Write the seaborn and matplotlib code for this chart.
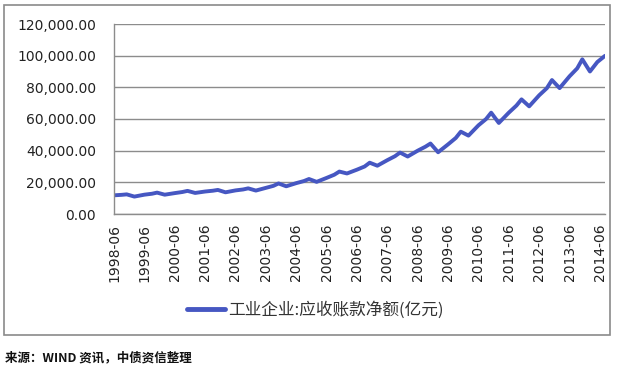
import pandas as pd
import matplotlib
matplotlib.use("Agg")
import matplotlib.pyplot as plt
from matplotlib.patches import Rectangle
from matplotlib.ticker import FuncFormatter
import seaborn as sns

# data (亿元)
dates = [
    "1998-06", "1998-09", "1998-11",
    "1999-02", "1999-06", "1999-09", "1999-11",
    "2000-02", "2000-06", "2000-09", "2000-11",
    "2001-02", "2001-06", "2001-09", "2001-11",
    "2002-02", "2002-06", "2002-09", "2002-11",
    "2003-02", "2003-06", "2003-09", "2003-11",
    "2004-02", "2004-06", "2004-09", "2004-11",
    "2005-02", "2005-06", "2005-09", "2005-11",
    "2006-02", "2006-06", "2006-09", "2006-11",
    "2007-02", "2007-06", "2007-09", "2007-11",
    "2008-02", "2008-06", "2008-09", "2008-11",
    "2009-02", "2009-06", "2009-09", "2009-11",
    "2010-02", "2010-06", "2010-09", "2010-11",
    "2011-02", "2011-06", "2011-09", "2011-11",
    "2012-02", "2012-06", "2012-09", "2012-11",
    "2013-02", "2013-06", "2013-09", "2013-11",
    "2014-02", "2014-05", "2014-08",
]
receivables = [
    11800, 12100, 12400,
    11000, 12200, 12800, 13500,
    12200, 13200, 13900, 14600,
    13300, 14200, 14700, 15200,
    13700, 14900, 15500, 16200,
    14800, 16500, 17800, 19300,
    17500, 19500, 20800, 22100,
    20300, 22800, 24800, 26800,
    25600, 28000, 30000, 32400,
    30500, 34000, 36500, 38800,
    36300, 40000, 42500, 44500,
    39000, 44000, 48000, 52000,
    49500, 56000, 60000, 64000,
    57500, 64000, 68500, 72400,
    68000, 75000, 79500, 84600,
    79500, 87000, 92000, 97700,
    90000, 96000, 99900,
]
series_name = "工业企业:应收账款净额(亿元)"
tick_labels = [f"{y}-06" for y in range(1998, 2015)]
source_note = "来源：WIND 资讯，中债资信整理"

df = pd.DataFrame({"date": pd.to_datetime(dates), "value": receivables})

sns.set_theme(style="white")
plt.rcParams["font.family"] = ["DejaVu Sans", "Noto Sans CJK SC"]

fig = plt.figure(figsize=(6.4, 3.73), dpi=100)
ax = fig.add_axes([114 / 640, 1 - 214 / 373, (605 - 114) / 640, (214 - 24) / 373])

line_color = "#4657C2"
grid_color = "#8c8c8c"

sns.lineplot(data=df, x="date", y="value", ax=ax, color=line_color,
             linewidth=2.8, label=series_name, legend=False)

ax.set_xlim(df["date"].iloc[0], df["date"].iloc[-1])
ax.set_ylim(0, 120000)
ax.set_yticks(range(0, 120001, 20000))
ax.yaxis.set_major_formatter(FuncFormatter(lambda v, p: f"{v:,.2f}"))
ax.yaxis.grid(True, color=grid_color, linewidth=1.0)
ax.set_axisbelow(True)

xt = pd.to_datetime(tick_labels)
ax.set_xticks(xt)
ax.set_xticklabels(tick_labels, rotation=90)
ax.set_xlabel("")
ax.set_ylabel("")

for s in ["top", "right"]:
    ax.spines[s].set_visible(False)
for s in ["left", "bottom"]:
    ax.spines[s].set_color(grid_color)
    ax.spines[s].set_linewidth(1.0)

ax.tick_params(axis="both", which="major", labelsize=10, colors="#222222",
               length=5, width=1.0, direction="out", pad=2)
ax.tick_params(axis="both", color=grid_color)
ax.tick_params(axis="y", pad=8)

handles, labels = ax.get_legend_handles_labels()
leg = fig.legend(handles, labels, loc="center", bbox_to_anchor=(315 / 640, 1 - 310 / 373),
                 frameon=False, handlelength=2.3, handletextpad=0.15,
                 prop={"family": ["Noto Sans CJK SC"], "size": 12})
for t in leg.get_texts():
    t.set_color("#333333")
for h in leg.get_lines():
    h.set_linewidth(3.5)

# outer chart frame
fig.patches.append(Rectangle((4 / 640, 1 - 335 / 373), (610 - 4) / 640, (335 - 5) / 373,
                             transform=fig.transFigure, fill=False,
                             edgecolor="#8a8a8a", linewidth=1.2))

fig.text(5 / 640, 1 - 358 / 373, source_note, ha="left", va="center",
         fontsize=9, fontweight="bold", family=["Noto Sans CJK SC", "DejaVu Sans"],
         color="#111111")

fig.savefig("out.png", dpi=100)
